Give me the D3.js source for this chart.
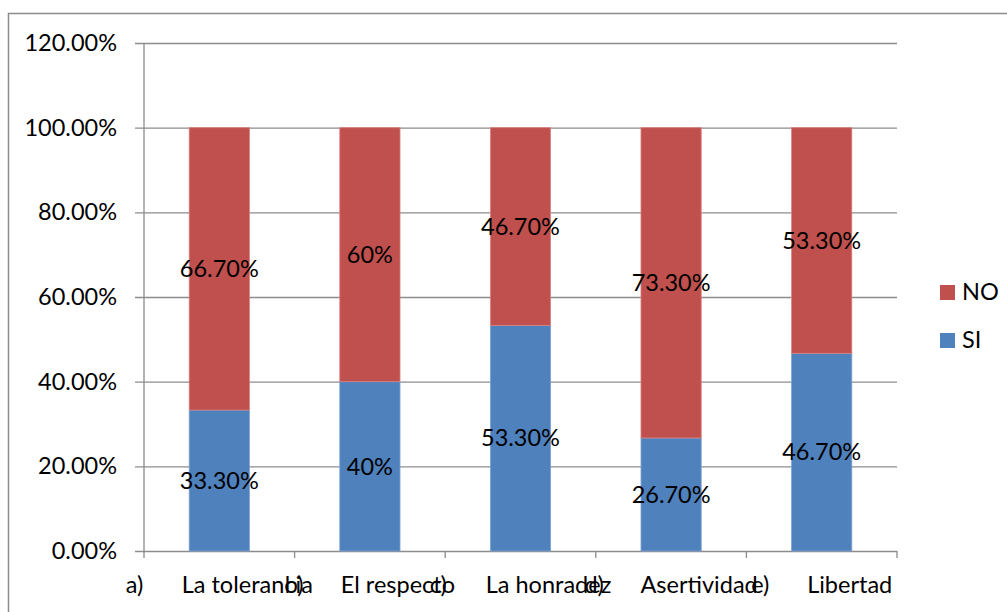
<!DOCTYPE html>
<html>
<head>
<meta charset="utf-8">
<script src="https://cdn.jsdelivr.net/npm/d3@7"></script>
<style>
  body { margin: 0; background: #fff; }
  svg text { font-family: "Lato", "Liberation Sans", sans-serif; fill: #000; }
</style>
</head>
<body>
<svg id="chart" width="1007" height="612"></svg>
<script>
// chart values
const letters = ['a)', 'b)', 'c)', 'd)', 'e)'];
const categories = ['La tolerancia', 'El respecto', 'La honradez', 'Asertividad', 'Libertad'];
const siValues = [33.3, 40, 53.3, 26.7, 46.7];
const noValues = [66.7, 60, 46.7, 73.3, 53.3];
const siLabels = ['33.30%', '40%', '53.30%', '26.70%', '46.70%'];
const noLabels = ['66.70%', '60%', '46.70%', '73.30%', '53.30%'];
const yTicks = [0, 20, 40, 60, 80, 100, 120];

const colors = { SI: '#4F81BD', NO: '#C0504D' };
const strokes = { SI: '#7ea3d4', NO: '#d98380' };
const fontSize = 23.5;

const svg = d3.select('#chart');

//outer chart border (right and bottom run off the picture)
svg.append('rect')
    .attr('x', 8.5).attr('y', 13.5)
    .attr('width', 1020).attr('height', 620)
    .attr('fill', 'none')
    .attr('stroke', '#8c8c8c')
    .attr('stroke-width', 1.5);

const plot = { left: 144, right: 897, top: 43, bottom: 551 };

const x = d3.scaleBand()
    .domain(categories)
    .range([plot.left, plot.right])
    .paddingInner(0.6)
    .paddingOuter(0.3);

const y = d3.scaleLinear()
    .domain([0, 120])
    .range([plot.bottom, plot.top]);

//gridlines + y axis
const yAxis = d3.axisLeft(y)
    .tickValues(yTicks)
    .tickSize(-(plot.right - plot.left))
    .tickFormat(d => d.toFixed(2) + '%');

const gy = svg.append('g')
    .attr('transform', `translate(${plot.left},0)`)
    .call(yAxis);
gy.select('.domain').remove();
gy.selectAll('.tick line')
    .attr('x1', -9)
    .attr('stroke', '#8c8c8c')
    .attr('stroke-width', 1.3);
gy.selectAll('.tick text')
    .attr('font-size', fontSize)
    .attr('dy', '0.32em')
    .attr('x', -27);

svg.append('line')
    .attr('x1', plot.left).attr('x2', plot.left)
    .attr('y1', plot.top).attr('y2', plot.bottom)
    .attr('stroke', '#8c8c8c').attr('stroke-width', 1.3);

//category ticks at the band boundaries
const bounds = d3.range(categories.length + 1)
    .map(i => plot.left + i * (plot.right - plot.left) / categories.length);
svg.append('g').selectAll('line')
    .data(bounds)
    .enter()
        .append('line')
        .attr('x1', d => d).attr('x2', d => d)
        .attr('y1', plot.bottom).attr('y2', plot.bottom + 7)
        .attr('stroke', '#8c8c8c').attr('stroke-width', 1.3);

//stacked bars
const rows = categories.map((c, i) => ({
    cat: c, si: siValues[i], no: noValues[i], siLabel: siLabels[i], noLabel: noLabels[i]
}));

const bars = svg.append('g').selectAll('g')
    .data(rows)
    .enter()
        .append('g');

bars.append('rect')
    .attr('x', d => x(d.cat))
    .attr('width', x.bandwidth())
    .attr('y', d => y(d.si))
    .attr('height', d => y(0) - y(d.si))
    .attr('fill', colors.SI)
    .attr('stroke', strokes.SI)
    .attr('stroke-width', 0.8);

bars.append('rect')
    .attr('x', d => x(d.cat))
    .attr('width', x.bandwidth())
    .attr('y', d => y(d.si + d.no))
    .attr('height', d => y(d.si) - y(d.si + d.no))
    .attr('fill', colors.NO)
    .attr('stroke', strokes.NO)
    .attr('stroke-width', 0.8);

bars.append('text')
    .attr('x', d => x(d.cat) + x.bandwidth() / 2)
    .attr('y', d => y(d.si / 2))
    .attr('dy', '0.35em')
    .attr('text-anchor', 'middle')
    .attr('font-size', fontSize)
    .text(d => d.siLabel);

bars.append('text')
    .attr('x', d => x(d.cat) + x.bandwidth() / 2)
    .attr('y', d => y(d.si + d.no / 2))
    .attr('dy', '0.35em')
    .attr('text-anchor', 'middle')
    .attr('font-size', fontSize)
    .text(d => d.noLabel);

//category labels: "a)<tab>La tolerancia" centred on the band, overlapping like the original
const tabStop = 56;
const catLabels = svg.append('g').selectAll('text')
    .data(categories)
    .enter()
        .append('text')
        .attr('x', d => x(d) + x.bandwidth() / 2)
        .attr('y', 593)
        .attr('text-anchor', 'middle')
        .attr('font-size', fontSize);
catLabels.append('tspan').attr('class', 'letter').text((d, i) => letters[i]);
catLabels.append('tspan').attr('class', 'name').text(d => d);
catLabels.each(function () {
    const g = d3.select(this);
    const w = g.select('.letter').node().getComputedTextLength();
    g.select('.name').attr('dx', tabStop - w);
});

//legend
const legend = svg.append('g').selectAll('g')
    .data(['NO', 'SI'])
    .enter()
        .append('g')
        .attr('transform', (d, i) => `translate(940,${285 + i * 48})`);
legend.append('rect')
    .attr('width', 15).attr('height', 15)
    .attr('fill', d => colors[d]);
legend.append('text')
    .attr('x', 22).attr('y', 15)
    .attr('font-size', fontSize)
    .text(d => d);
</script>
</body>
</html>
